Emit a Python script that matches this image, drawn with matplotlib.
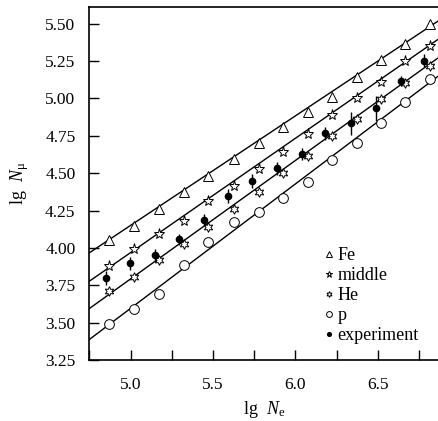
import matplotlib
matplotlib.use('Agg')
import matplotlib.pyplot as plt
import numpy as np
from matplotlib.ticker import MultipleLocator

plt.rcParams['font.family'] = 'Liberation Serif'
plt.rcParams['mathtext.fontset'] = 'custom'
plt.rcParams['mathtext.rm'] = 'Liberation Serif'
plt.rcParams['mathtext.it'] = 'Liberation Serif:italic'

# simulated points (lg Ne) shared by all primaries
ne_sim = [4.87, 5.02, 5.17, 5.325, 5.47, 5.627, 5.778, 5.928, 6.078, 6.222, 6.373, 6.52, 6.667, 6.82]
fe = [4.052, 4.145, 4.257, 4.371, 4.480, 4.594, 4.699, 4.807, 4.911, 5.012, 5.146, 5.257, 5.365, 5.498]
middle = [3.880, 3.991, 4.090, 4.181, 4.315, 4.413, 4.525, 4.643, 4.760, 4.889, 5.005, 5.112, 5.253, 5.351]
he = [3.710, 3.806, 3.918, 4.025, 4.137, 4.257, 4.372, 4.498, 4.615, 4.748, 4.860, 4.994, 5.101, 5.217]
p = [3.494, 3.590, 3.690, 3.884, 4.040, 4.170, 4.238, 4.331, 4.442, 4.588, 4.703, 4.833, 4.978, 5.128]

# experiment
ne_exp = [4.850, 4.996, 5.149, 5.295, 5.448, 5.594, 5.740, 5.888, 6.039, 6.183, 6.340, 6.490, 6.640, 6.780]
nmu_exp = [3.799, 3.896, 3.951, 4.058, 4.186, 4.346, 4.447, 4.532, 4.626, 4.766, 4.833, 4.934, 5.117, 5.253]
err_exp = [0.045, 0.045, 0.04, 0.037, 0.04, 0.045, 0.045, 0.045, 0.04, 0.042, 0.075, 0.085, 0.035, 0.045]

# fitted lines, ends
line_x = [4.75, 6.876]
fe_line = [3.967, 5.525]
middle_line = [3.777, 5.403]
he_line = [3.594, 5.279]
p_line = [3.387, 5.157]

fig = plt.figure(figsize=(4.38, 4.21), dpi=100)
ax = fig.add_axes([0.2039, 0.1449, 0.80, 0.8378])

for yl in [fe_line, middle_line, he_line, p_line]:
    ax.plot(line_x, yl, color='black', lw=1.0)

ms = 7
ax.plot(ne_sim, fe, ls='none', marker='^', ms=ms, mfc='white', mec='black', mew=0.7, label='Fe')
ax.plot(ne_sim, middle, ls='none', marker='*', ms=ms + 1, mfc='white', mec='black', mew=0.7, label='middle')
ax.plot(ne_sim, he, ls='none', marker=(6, 1, 0), ms=ms, mfc='white', mec='black', mew=0.7, label='He')
ax.plot(ne_sim, p, ls='none', marker='o', ms=ms, mfc='white', mec='black', mew=0.7, label='p')
ax.errorbar(ne_exp, nmu_exp, yerr=err_exp, fmt='none', ecolor='black', elinewidth=1.0, capsize=0)
ax.plot(ne_exp, nmu_exp, ls='none', marker='o', ms=4.5, color='black', label='experiment')

ax.set_xlim(4.75, 6.876)
ax.set_ylim(3.25, 5.61)
ax.xaxis.set_major_locator(MultipleLocator(0.5))
ax.xaxis.set_minor_locator(MultipleLocator(0.25))
ax.yaxis.set_major_locator(MultipleLocator(0.25))
ax.yaxis.set_major_formatter(matplotlib.ticker.FormatStrFormatter('%.2f'))
ax.xaxis.set_major_formatter(matplotlib.ticker.FormatStrFormatter('%.1f'))
ax.tick_params(which='both', direction='in', length=7, width=1.0, labelsize=12.5, top=False, right=False)
ax.tick_params(axis='x', pad=12)
ax.tick_params(axis='y', pad=10)
for s in ax.spines.values():
    s.set_linewidth(1.2)
ax.spines['right'].set_visible(False)

ax.set_xlabel(r'lg  $N_\mathrm{e}$', fontsize=13)
ax.set_ylabel(r'lg  $N_\mathrm{μ}$', fontsize=13)
ax.xaxis.set_label_coords(0.5, -0.11)
ax.yaxis.set_label_coords(-0.165, 0.5)

leg = ax.legend(loc='lower left', bbox_to_anchor=(0.67, 0.045), frameon=False, fontsize=13,
                handlelength=0.5, handletextpad=0.25, labelspacing=0.17, borderpad=0, borderaxespad=0,
                markerscale=0.6)

fig.savefig('out.png', dpi=100)
